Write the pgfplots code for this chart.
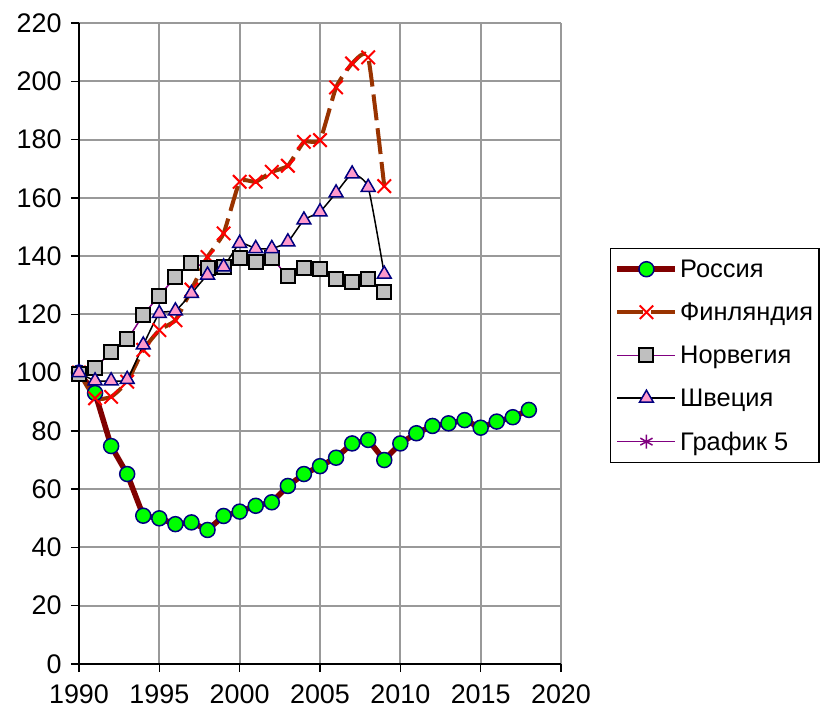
\documentclass[border=0pt]{standalone}
\usepackage{fontspec}
\setmainfont{Liberation Sans}
\usepackage{pgfplots}
\pgfplotsset{compat=1.18}
\definecolor{rus}{HTML}{800000}
\definecolor{fin}{HTML}{993300}
\definecolor{nor}{HTML}{800080}
\definecolor{swe}{HTML}{000000}
\definecolor{gridc}{HTML}{999999}
\definecolor{pinkm}{HTML}{FF99CC}
\definecolor{navym}{HTML}{000080}
\begin{document}
\begin{tikzpicture}
\path (-79bp,-46bp) rectangle (742bp,664bp);
\begin{axis}[
  at={(0,0)}, anchor=south west,
  scale only axis,
  width=482bp, height=641bp,
  xmin=1990, xmax=2020, ymin=0, ymax=220,
  xtick={1990,1995,...,2020},
  ytick={0,20,...,220},
  axis x line*=bottom, axis y line*=left,
  axis line style={black, line width=1.5bp, -},
  tick align=outside,
  major tick length=8bp,
  tick style={black, line width=1.5bp},
  grid=major,
  major grid style={gridc, line width=2bp},
  x tick label style={/pgf/number format/1000 sep={}, font=\fontsize{27}{30}\selectfont, text depth=0pt, inner ysep=1bp, yshift=-12bp},
  y tick label style={font=\fontsize{27}{30}\selectfont, xshift=-6bp},
  /pgf/number format/assume math mode=true,
  legend style={
    at={(1.537,0.649)}, anchor=north east,
    draw=black, line width=1.5bp, fill=white,
    font=\fontsize{25.5}{28}\selectfont,
    row sep=20bp, inner ysep=9bp, inner xsep=4bp,
    cells={anchor=west},
  },
  legend image code/.code={%
    \draw[mark repeat=2,mark phase=2] plot coordinates {(0bp,0bp) (29bp,0bp) (58bp,0bp)};%
  },
]
\addplot[rus, line width=5.5bp, mark=*, mark size=7.5bp,
  mark options={solid, fill=green, draw=navym, line width=1.5bp}]
coordinates {
(1990,100) (1991,93) (1992,74.8) (1993,65.2) (1994,50.9) (1995,50) (1996,48) (1997,48.6)
(1998,46) (1999,50.8) (2000,52.3) (2001,54.3) (2002,55.5) (2003,61.1) (2004,65.2)
(2005,67.9) (2006,70.8) (2007,75.7) (2008,76.9) (2009,70) (2010,75.7) (2011,79.2)
(2012,81.7) (2013,82.6) (2014,83.7) (2015,81.1) (2016,83.2) (2017,84.7) (2018,87.2)
};
\addlegendentry{Россия}
\addplot[fin, line width=4bp, dash pattern=on 26bp off 8bp, smooth, tension=0.3,
  mark=x, mark size=9.5bp, mark options={solid, draw=red, line width=2bp}]
coordinates {
(1990,100) (1991,91.2) (1992,91.7) (1993,96.9) (1994,107.8) (1995,114.6) (1996,118)
(1997,128.5) (1998,139.7) (1999,147.8) (2000,165.5) (2001,165.5) (2002,168.9) (2003,171)
(2004,179.2) (2005,179.8) (2006,197.9) (2007,206.1) (2008,208.2) (2009,164)
};
\addlegendentry{Финляндия}
\addplot[nor, line width=1.5bp, smooth, tension=0.3,
  mark=square*, mark size=7bp, mark options={solid, fill=black!25, draw=black, line width=2bp}]
coordinates {
(1990,99.4) (1991,101.7) (1992,107.2) (1993,111.4) (1994,119.8) (1995,126.4) (1996,132.7)
(1997,137.5) (1998,136) (1999,136.3) (2000,139.4) (2001,138) (2002,139.2) (2003,133.2)
(2004,136) (2005,135.4) (2006,132) (2007,131.2) (2008,132) (2009,127.8)
};
\addlegendentry{Норвегия}
\addplot[swe, line width=1.5bp, smooth, tension=0.3,
  mark=triangle*, mark size=8bp, mark options={solid, fill=pinkm, draw=navym, line width=1.5bp}]
coordinates {
(1990,100) (1991,97.2) (1992,97.2) (1993,97.7) (1994,109.5) (1995,120.3) (1996,121.2)
(1997,127.2) (1998,133.5) (1999,136.3) (2000,144.4) (2001,142.6) (2002,142.6) (2003,144.9)
(2004,152.4) (2005,155.2) (2006,161.7) (2007,168.2) (2008,163.6) (2009,133.8)
};
\addlegendentry{Швеция}
\addlegendimage{nor, line width=1.5bp, mark=asterisk, mark size=7bp, mark options={solid, line width=1.5bp}}
\addlegendentry{График 5}
\end{axis}
\end{tikzpicture}
\end{document}
